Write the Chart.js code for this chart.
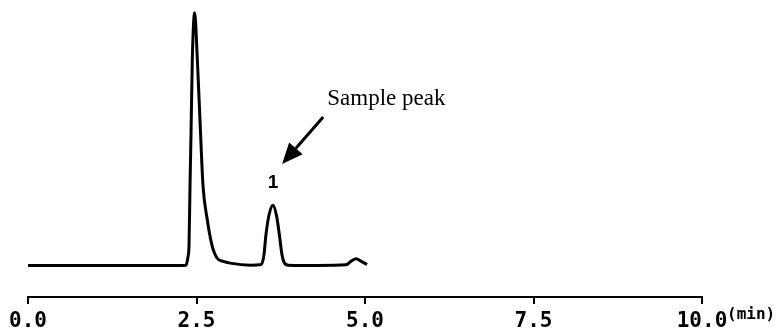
<!DOCTYPE html>
<html>
<head>
<meta charset="utf-8">
<script src="https://cdn.jsdelivr.net/npm/chart.js@4/dist/chart.umd.min.js"></script>
<style>
  html, body { margin: 0; padding: 0; background: #fff; }
  #wrap { width: 782px; height: 336px; }
</style>
</head>
<body>
<div id="wrap"><canvas id="chart" width="782" height="336"></canvas></div>
<script>
// retention time (min) and detector signal (arbitrary units)
const timeMin = [0, 2.0, 2.344, 2.374, 2.389, 2.404, 2.418, 2.438, 2.473, 2.512, 2.562, 2.596, 2.656, 2.73, 2.804, 2.9, 3.0, 3.3,
  3.46, 3.50, 3.53, 3.58, 3.635, 3.69, 3.73, 3.77, 3.80, 3.86, 4.3, 4.72, 4.8, 4.87, 4.94, 5.03];
const signal = [11, 11, 11.1, 14, 18, 39, 56, 83, 99, 83, 56, 39, 27.5, 18, 13.6, 12.4, 11.8, 11.1,
  11.3, 14.5, 21.6, 29, 32, 28, 21.6, 14.5, 12, 11.1, 11, 11.2, 12.6, 13.3, 12.5, 11.3];

const tickValues = [0, 2.5, 5, 7.5, 10];
const tickLabels = ['0.0', '2.5', '5.0', '7.5', '10.0'];
const unitLabel = '(min)';

const peakLabel = '1';
const peakTime = 3.635;
const annotationText = 'Sample peak';

const points = timeMin.map((t, i) => ({ x: t, y: signal[i] }));

// text + arrow drawn on top, placed through the scales
const annotations = {
  id: 'annotations',
  afterDatasetsDraw(chart) {
    const { ctx, scales: { x, y } } = chart;
    ctx.save();
    ctx.fillStyle = '#000';
    ctx.strokeStyle = '#000';

    // "1" above the sample peak
    ctx.font = 'bold 19px "Liberation Sans"';
    ctx.textAlign = 'center';
    ctx.textBaseline = 'middle';
    ctx.fillText(peakLabel, x.getPixelForValue(peakTime), y.getPixelForValue(39.7));

    // arrow
    const x0 = x.getPixelForValue(4.38), y0 = y.getPixelForValue(62.7);
    const x1 = x.getPixelForValue(3.77), y1 = y.getPixelForValue(46.3);
    const ang = Math.atan2(y1 - y0, x1 - x0);
    const headLen = 21, headW = 9;
    const bx = x1 - headLen * Math.cos(ang), by = y1 - headLen * Math.sin(ang);
    ctx.lineWidth = 3;
    ctx.beginPath();
    ctx.moveTo(x0, y0);
    ctx.lineTo(bx, by);
    ctx.stroke();
    ctx.beginPath();
    ctx.moveTo(x1, y1);
    ctx.lineTo(bx + headW * Math.sin(ang), by - headW * Math.cos(ang));
    ctx.lineTo(bx - headW * Math.sin(ang), by + headW * Math.cos(ang));
    ctx.closePath();
    ctx.fill();

    // label text
    ctx.font = '23px "Liberation Serif"';
    ctx.textAlign = 'left';
    ctx.textBaseline = 'alphabetic';
    ctx.fillText(annotationText, x.getPixelForValue(4.44), y.getPixelForValue(66.9));

    // unit next to last tick, raised like a superscript
    ctx.font = 'bold 16px "DejaVu Sans Mono"';
    ctx.textBaseline = 'middle';
    ctx.fillText(unitLabel, x.right + 25, 315);
    ctx.restore();
  }
};

new Chart(document.getElementById('chart'), {
  type: 'line',
  data: {
    datasets: [{
      data: points,
      borderColor: '#000',
      borderWidth: 3,
      pointRadius: 0,
      fill: false,
      cubicInterpolationMode: 'monotone',
      clip: false
    }]
  },
  options: {
    responsive: false,
    animation: false,
    events: [],
    layout: { padding: { left: 28, right: 80, top: 10, bottom: 0 } },
    plugins: { legend: { display: false }, tooltip: { enabled: false } },
    scales: {
      x: {
        type: 'linear',
        min: 0,
        max: 10,
        afterBuildTicks: (axis) => { axis.ticks = tickValues.map(v => ({ value: v })); },
        afterFit: (axis) => { axis.height = 39; },
        border: { display: true, color: '#000', width: 2 },
        grid: { drawOnChartArea: false, drawTicks: true, tickLength: 7, color: '#000', lineWidth: 2 },
        ticks: {
          color: '#000',
          padding: 5,
          maxRotation: 0,
          autoSkip: false,
          font: { family: '"DejaVu Sans Mono"', size: 21, weight: 'bold' },
          callback: (v) => tickLabels[tickValues.indexOf(v)]
        }
      },
      y: {
        display: false,
        min: 0,
        max: 100
      }
    }
  },
  plugins: [annotations]
});
</script>
</body>
</html>
